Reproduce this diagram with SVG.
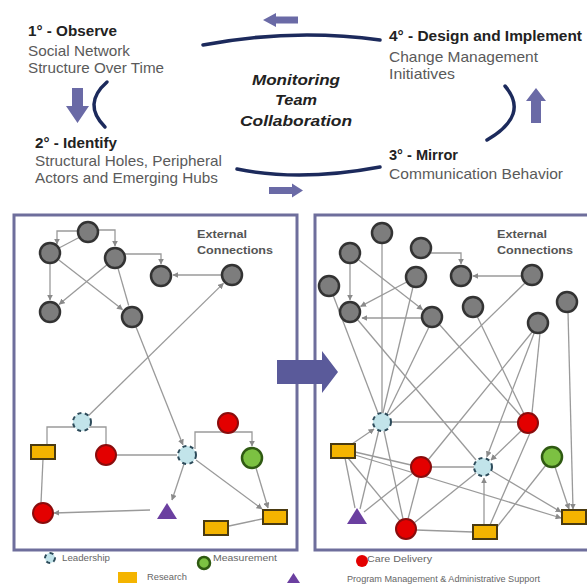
<svg xmlns="http://www.w3.org/2000/svg" width="587" height="584" viewBox="0 0 587 584">
<defs>
<marker id="ah" viewBox="0 0 10 10" refX="9" refY="5" markerWidth="6" markerHeight="6" markerUnits="userSpaceOnUse" orient="auto">
<path d="M0,0 L10,5 L0,10 z" fill="#8a8a8a"/>
</marker>
</defs>
<style>
.t{font-family:"Liberation Sans",Arial,sans-serif}
.h{font-size:15px;font-weight:bold;fill:#222}
.s{font-size:15px;fill:#5a5a5a}
.c{font-size:15px;font-weight:bold;font-style:italic;fill:#222}
.ext{font-size:10.5px;font-weight:bold;fill:#555}
.lg{font-size:9px;fill:#666}
.arc{fill:none;stroke:#1c2a5c;stroke-width:3.5;stroke-linecap:round}
.blk{fill:#6a6aa6}
.panel{fill:#fff;stroke:#6e6e9c;stroke-width:3}
.e{fill:none;stroke:#9a9a9a;stroke-width:1.3}
.ea{fill:none;stroke:#9a9a9a;stroke-width:1.3;marker-end:url(#ah)}
.g{fill:#7d7d7d;stroke:#333;stroke-width:2.5}
.r{fill:#e30000;stroke:#8a0c0c;stroke-width:2}
.gr{fill:#7cc142;stroke:#2f5a12;stroke-width:2.5}
.y{fill:#f4b400;stroke:#4a3a10;stroke-width:2}
.tri{fill:#6b3fa0}
.hub{fill:#c2e4ea;stroke:#2d4b5a;stroke-width:2;stroke-dasharray:4 3.5}
</style>
<rect width="587" height="584" fill="#fff"/>

<g id="cycle">
<path class="arc" d="M203,45 Q292,28 380,40"/>
<path class="arc" d="M237,169 Q300,182 380,167"/>
<path class="arc" d="M107,82 Q82,104 105,127"/>
<path class="arc" d="M505,86 Q530,115 487,140"/>
<polygon class="blk" points="263,20 276,13 276,16.5 298,16.5 298,23.5 276,23.5 276,27"/>
<polygon class="blk" points="269,187 292,187 292,183.5 303,190.5 292,197.5 292,194 269,194"/>
<polygon class="blk" points="72,88 83,88 83,106 89,106 77.5,123 66,106 72,106"/>
<polygon class="blk" points="536,88 546,101 541,101 541,123 531,123 531,101 526,101"/>
</g>

<g id="step1" class="t">
<text class="h" x="28" y="36" textLength="89" lengthAdjust="spacingAndGlyphs">1° - Observe</text>
<text class="s" x="28" y="56" textLength="102" lengthAdjust="spacingAndGlyphs">Social Network</text>
<text class="s" x="28" y="73" textLength="136" lengthAdjust="spacingAndGlyphs">Structure Over Time</text>
</g>
<g id="step2" class="t">
<text class="h" x="35" y="148" textLength="82" lengthAdjust="spacingAndGlyphs">2° - Identify</text>
<text class="s" x="35" y="166" textLength="187" lengthAdjust="spacingAndGlyphs">Structural Holes, Peripheral</text>
<text class="s" x="35" y="183" textLength="183" lengthAdjust="spacingAndGlyphs">Actors and Emerging Hubs</text>
</g>
<g id="step4" class="t">
<text class="h" x="389" y="41" textLength="193" lengthAdjust="spacingAndGlyphs">4° - Design and Implement</text>
<text class="s" x="389" y="62" textLength="149" lengthAdjust="spacingAndGlyphs">Change Management</text>
<text class="s" x="389" y="79" textLength="66" lengthAdjust="spacingAndGlyphs">Initiatives</text>
</g>
<g id="step3" class="t">
<text class="h" x="389" y="160" textLength="69" lengthAdjust="spacingAndGlyphs">3° - Mirror</text>
<text class="s" x="389" y="179" textLength="174" lengthAdjust="spacingAndGlyphs">Communication Behavior</text>
</g>
<g id="center" class="t" text-anchor="middle">
<text class="c" x="296" y="85" textLength="88" lengthAdjust="spacingAndGlyphs">Monitoring</text>
<text class="c" x="296" y="105" textLength="42" lengthAdjust="spacingAndGlyphs">Team</text>
<text class="c" x="296" y="126" textLength="112" lengthAdjust="spacingAndGlyphs">Collaboration</text>
</g>

<rect id="panel-before" class="panel" x="14" y="215" width="283" height="335"/>
<rect id="panel-after" class="panel" x="315" y="215" width="280" height="335"/>

<g id="connectors">
<!-- left panel -->
<path class="ea" d="M78,231 H57 V244"/>
<path class="e" d="M80,237 L59,248"/>
<path class="ea" d="M98,230 H115 V246"/>
<path class="ea" d="M125,254 H161 V264"/>
<path class="ea" d="M222,275 H173"/>
<path class="ea" d="M50,263 V300"/>
<path class="ea" d="M107.3,264.4 L59.2,304.3"/>
<path class="ea" d="M57.9,259.2 L122.5,309.6"/>
<path class="e" d="M117.8,267.6 L128.7,305.5"/>
<path class="ea" d="M135.7,326.3 L182.9,444.8"/>
<path class="ea" d="M88.4,415.7 L223.4,283.4"/>
<path class="e" d="M75,427 H47 V444"/>
<path class="e" d="M89,427 H106 V445"/>
<path class="e" d="M116,455 H177"/>
<path class="e" d="M43,459 L41,503"/>
<path class="ea" d="M150,510 L54,513"/>
<path class="ea" d="M184,464 L172,500"/>
<path class="ea" d="M195,449 V432 H252 V446"/>
<path class="ea" d="M196,460 L262,509"/>
<path class="ea" d="M256,468 L268,508"/>
<path class="e" d="M229,526 L262,519"/>
<!-- right panel -->
<path class="ea" d="M431,253 H461 V264"/>
<path class="ea" d="M522,276 H473"/>
<path class="ea" d="M350,263 V300"/>
<path class="ea" d="M357.9,259.2 L422.5,309.6"/>
<path class="ea" d="M407.2,281.7 L360.6,306.4"/>
<path class="ea" d="M422,318 H362"/>
<path class="e" d="M382,243 L382,413"/>
<path class="e" d="M333,295 L378,413"/>
<path class="e" d="M389,415 L525,283"/>
<path class="e" d="M357,319 L476,460"/>
<path class="e" d="M477,316 L524,414"/>
<path class="e" d="M533,331 L428,460"/>
<path class="ea" d="M534.4,332.4 L486.9,456.7"/>
<path class="e" d="M540,333 L532,413"/>
<path class="ea" d="M568,312 L573,509"/>
<path class="e" d="M413,287 L360,509"/>
<path class="e" d="M429,327 L387,414"/>
<path class="e" d="M439,324 L521,416"/>
<path class="e" d="M391,422 H518"/>
<path class="ea" d="M352,444 L374,429"/>
<path class="e" d="M355,452 L411,465"/>
<path class="ea" d="M355,455 L561,518"/>
<path class="e" d="M345,458 L355,508"/>
<path class="e" d="M348,458 L400,521"/>
<path class="e" d="M413,473 L364,512"/>
<path class="e" d="M419,477 L408,519"/>
<path class="e" d="M431,467 H474"/>
<path class="e" d="M414,523 L476,473"/>
<path class="e" d="M416,530 L473,532"/>
<path class="ea" d="M484,525 V478"/>
<path class="e" d="M490,525 L530,433"/>
<path class="e" d="M497,527 L546,465"/>
<path class="ea" d="M555,467 L569,509"/>
<path class="ea" d="M521,431 L491,460"/>
<path class="ea" d="M492,471 L561,512"/>
<path class="e" d="M384,431 L403,519"/>
</g>

<g id="ext-left" class="t"><text class="ext" x="197" y="238" textLength="50" lengthAdjust="spacingAndGlyphs">External</text><text class="ext" x="197" y="254" textLength="76" lengthAdjust="spacingAndGlyphs">Connections</text></g>
<g id="ext-right" class="t"><text class="ext" x="497" y="238" textLength="50" lengthAdjust="spacingAndGlyphs">External</text><text class="ext" x="497" y="254" textLength="76" lengthAdjust="spacingAndGlyphs">Connections</text></g>

<!-- left nodes -->
<circle id="L-A" class="g" cx="88" cy="232" r="10"/>
<circle id="L-B" class="g" cx="50" cy="253" r="10"/>
<circle id="L-C" class="g" cx="115" cy="258" r="10"/>
<circle id="L-D" class="g" cx="161" cy="276" r="10"/>
<circle id="L-E" class="g" cx="232" cy="275" r="10"/>
<circle id="L-F" class="g" cx="50" cy="312" r="10"/>
<circle id="L-G" class="g" cx="132" cy="317" r="10"/>
<circle id="L-H1" class="hub" cx="82" cy="422" r="9"/>
<circle id="L-H2" class="hub" cx="187" cy="455" r="9"/>
<rect id="L-R1" class="y" x="31" y="445" width="24" height="14"/>
<circle id="L-C1" class="r" cx="106" cy="455" r="10"/>
<circle id="L-C2" class="r" cx="228" cy="423" r="10"/>
<circle id="L-M1" class="gr" cx="252" cy="458" r="10"/>
<circle id="L-C3" class="r" cx="43" cy="513" r="10"/>
<polygon id="L-T1" class="tri" points="167,503 177,519 157,519"/>
<rect id="L-R2" class="y" x="263" y="510" width="24" height="14"/>
<rect id="L-R3" class="y" x="204" y="521" width="24" height="14"/>

<!-- right nodes -->
<circle id="R-P1" class="g" cx="382" cy="233" r="10"/>
<circle id="R-P2" class="g" cx="350" cy="253" r="10"/>
<circle id="R-P3" class="g" cx="421" cy="248" r="10"/>
<circle id="R-P4" class="g" cx="416" cy="277" r="10"/>
<circle id="R-P5" class="g" cx="329" cy="286" r="10"/>
<circle id="R-P6" class="g" cx="350" cy="312" r="10"/>
<circle id="R-P7" class="g" cx="432" cy="317" r="10"/>
<circle id="R-P8" class="g" cx="461" cy="276" r="10"/>
<circle id="R-P9" class="g" cx="532" cy="275" r="10"/>
<circle id="R-P10" class="g" cx="473" cy="307" r="10"/>
<circle id="R-P11" class="g" cx="567" cy="302" r="10"/>
<circle id="R-P12" class="g" cx="538" cy="323" r="10"/>
<circle id="R-H1" class="hub" cx="382" cy="422" r="9"/>
<circle id="R-H2" class="hub" cx="483" cy="467" r="9"/>
<rect id="R-Y1" class="y" x="331" y="444" width="24" height="14"/>
<circle id="R-Rd1" class="r" cx="421" cy="467" r="10"/>
<circle id="R-Rd2" class="r" cx="528" cy="423" r="10"/>
<circle id="R-G1" class="gr" cx="552" cy="457" r="10"/>
<polygon id="R-T1" class="tri" points="357,508 367,524 347,524"/>
<circle id="R-Rd3" class="r" cx="406" cy="529" r="10"/>
<rect id="R-Y2" class="y" x="473" y="525" width="24" height="14"/>
<rect id="R-Y3" class="y" x="562" y="510" width="24" height="14"/>

<polygon id="transition-arrow" fill="#5a5a9a" points="277,360 322,360 322,351 338,372 322,393 322,384 277,384"/>

<g id="legend" class="t">
<circle class="hub" cx="50" cy="558" r="5" stroke-width="1.5" stroke-dasharray="2.5 2"/>
<text class="lg" x="62" y="561" textLength="48" lengthAdjust="spacingAndGlyphs">Leadership</text>
<circle class="gr" cx="204" cy="563" r="6" stroke-width="0"/>
<text class="lg" x="213" y="561" textLength="64" lengthAdjust="spacingAndGlyphs">Measurement</text>
<circle cx="362" cy="561" r="6" fill="#e30000"/>
<text class="lg" x="367" y="562" textLength="65" lengthAdjust="spacingAndGlyphs">Care Delivery</text>
<rect x="118" y="572" width="19" height="11" fill="#f4b400"/>
<text class="lg" x="147" y="580" textLength="40" lengthAdjust="spacingAndGlyphs">Research</text>
<polygon class="tri" points="293.5,573 300,583 287,583"/>
<text class="lg" x="347" y="582" textLength="193" lengthAdjust="spacingAndGlyphs">Program Management &amp; Administrative Support</text>
</g>
</svg>
